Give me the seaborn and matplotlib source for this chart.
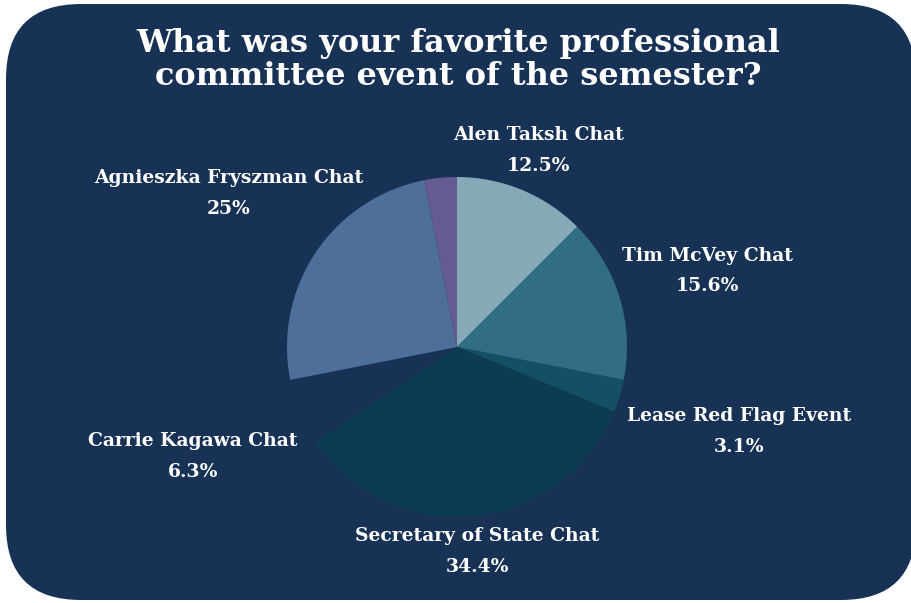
import numpy as np
import matplotlib
matplotlib.use('Agg')
import matplotlib.pyplot as plt
import seaborn as sns
from matplotlib.patches import FancyBboxPatch

sns.set_theme(style='white')
plt.rcParams['font.family'] = ['DejaVu Serif']

# dados
eventos = ['Alen Taksh Chat', 'Tim McVey Chat', 'Lease Red Flag Event',
           'Secretary of State Chat', 'Carrie Kagawa Chat',
           'Agnieszka Fryszman Chat', '']
percentuais = [12.5, 15.6, 3.1, 34.4, 6.3, 25.0, 3.1]
rotulos_pct = ['12.5%', '15.6%', '3.1%', '34.4%', '6.3%', '25%', '']
cores = ['#86a9b7', '#336d85', '#154f66', '#0c3c52', '#173254', '#4e6f9a', '#655a91']
dist_rotulo = [1.25, 1.54, 1.73, 1.21, 1.68, 1.62, 0]

fundo = '#173254'
W, H = 912, 603

fig = plt.figure(figsize=(W / 100, H / 100), dpi=100)
fig.patch.set_facecolor('white')
ax = fig.add_axes([0, 0, 1, 1])

# cartao de fundo arredondado
raio = 75
x0, x1, y0, y1 = 6, 916, 3, 599
card = FancyBboxPatch((x0 + raio, y0 + raio), x1 - x0 - 2 * raio, y1 - y0 - 2 * raio,
                      boxstyle='round,pad=%d' % raio, facecolor=fundo, edgecolor='none', zorder=0)
ax.add_patch(card)

cx, cy, r = 457, H - 347, 170
wedges, _ = ax.pie(percentuais, colors=cores, startangle=90, counterclock=False,
                   center=(cx, cy), radius=r, wedgeprops=dict(linewidth=0), frame=True)
ax.set_xlim(0, W)
ax.set_ylim(0, H)
ax.set_aspect('equal')
ax.axis('off')

for w, nome, pct, d in zip(wedges, eventos, rotulos_pct, dist_rotulo):
    if not nome:
        continue
    ang = np.deg2rad((w.theta1 + w.theta2) / 2)
    x = cx + d * r * np.cos(ang)
    y = cy + d * r * np.sin(ang)
    ax.text(x, y, nome + '\n' + pct, ha='center', va='center', color='white',
            fontsize=13.5, fontweight='bold', linespacing=1.9)

ax.text(458, H - 60, 'What was your favorite professional\ncommittee event of the semester?',
        ha='center', va='center', color='white', fontsize=23, fontweight='bold',
        linespacing=1.1)

plt.savefig('out.png', dpi=100, facecolor='white')
